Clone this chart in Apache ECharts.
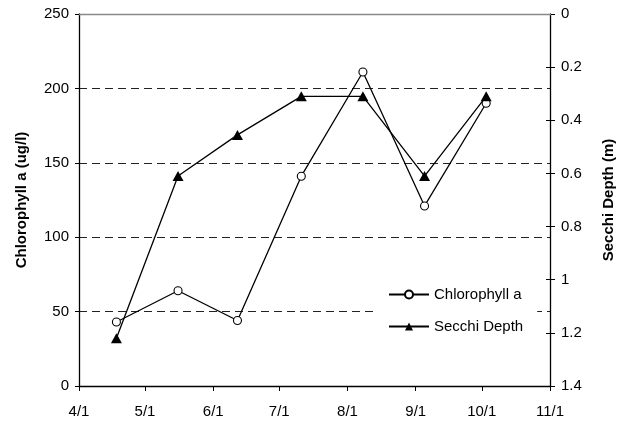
<!DOCTYPE html>
<html>
<head>
<meta charset="utf-8">
<script src="https://cdn.jsdelivr.net/npm/echarts@6/dist/echarts.min.js"></script>
<style>html,body{margin:0;padding:0;background:#fff}#c{width:624px;height:425px}</style>
</head>
<body>
<div id="c"></div>
<script>
var sampleDates = ['2005-04-18','2005-05-16','2005-06-12','2005-07-11','2005-08-08','2005-09-05','2005-10-03'];
var chlorophyll = [43, 64, 44, 141, 211, 121, 190];
var secchiDepth = [1.22, 0.61, 0.455, 0.31, 0.31, 0.61, 0.31];
var xRange = ['2005-04-01', '2005-11-01'];
var leftTicks = [0, 250, 50];
var rightTicks = [0, 1.4, 0.2];

var font = 'Liberation Sans, Arial, sans-serif';
function pairs(dates, vals){ return dates.map(function(d,i){ return [d, vals[i]]; }); }

var chart = echarts.init(document.getElementById('c'), null, {renderer:'canvas'});
chart.setOption({
  animation: false,
  backgroundColor: '#fff',
  grid: {left: 79, right: 73, top: 14, bottom: 39, containLabel: false},
  legend: {
    orient: 'vertical', left: 375, top: 283,
    backgroundColor: '#fff', padding: [4, 14, 4, 13],
    itemWidth: 40, itemHeight: 10, itemGap: 17,
    textStyle: {fontFamily: font, fontSize: 15, color: '#000'},
    data: ['Chlorophyll a', 'Secchi Depth']
  },
  xAxis: {
    type: 'time',
    min: xRange[0], max: xRange[1],
    splitNumber: 7,
    axisLine: {lineStyle: {color: '#000', width: 1.3}},
    axisTick: {show: true, length: 5, lineStyle: {color: '#000'}},
    axisLabel: {
      fontFamily: font, fontSize: 15, color: '#000', margin: 18,
      showMinLabel: true, showMaxLabel: true,
      formatter: function(v){ var d = new Date(v); return (d.getMonth()+1) + '/' + d.getDate(); }
    },
    splitLine: {show: false}
  },
  yAxis: [
    {
      type: 'value', position: 'left',
      min: leftTicks[0], max: leftTicks[1], interval: leftTicks[2],
      name: 'Chlorophyll a (ug/l)', nameLocation: 'middle', nameGap: 50, nameRotate: 90,
      nameTextStyle: {fontFamily: font, fontSize: 15, fontWeight: 'bold', color: '#000'},
      axisLine: {show: true, lineStyle: {color: '#000', width: 1.3}},
      axisTick: {show: true, length: 4, lineStyle: {color: '#000'}},
      axisLabel: {fontFamily: font, fontSize: 15, color: '#000', margin: 10},
      splitLine: {show: true, lineStyle: {color: '#222', width: 1, type: [8, 5]}}
    },
    {
      type: 'value', position: 'right', inverse: true,
      min: rightTicks[0], max: rightTicks[1], interval: rightTicks[2],
      name: 'Secchi Depth (m)', nameLocation: 'middle', nameGap: 51, nameRotate: 90,
      nameTextStyle: {fontFamily: font, fontSize: 15, fontWeight: 'bold', color: '#000'},
      axisLine: {show: true, lineStyle: {color: '#000', width: 1.3}},
      axisTick: {show: true, length: 5, lineStyle: {color: '#000'}},
      axisLabel: {fontFamily: font, fontSize: 15, color: '#000', margin: 11,
        formatter: function(v){ return String(Math.round(v*10)/10); }},
      splitLine: {show: false}
    },
    {
      type: 'value', position: 'right', inverse: true,
      min: rightTicks[0], max: rightTicks[1], interval: rightTicks[2],
      axisLine: {show: false},
      axisTick: {show: true, inside: true, length: 4, lineStyle: {color: '#000'}},
      axisLabel: {show: false},
      splitLine: {show: false}
    }
  ],
  graphic: [{
    type: 'line', shape: {x1: 79, y1: 14.5, x2: 551, y2: 14.5},
    style: {stroke: '#888', lineWidth: 1.3}, z: 10
  }],
  series: [
    {
      name: 'Chlorophyll a', type: 'line', yAxisIndex: 0,
      data: pairs(sampleDates, chlorophyll),
      symbol: 'circle', symbolSize: 8, showAllSymbol: true,
      lineStyle: {color: '#000', width: 1.3},
      itemStyle: {color: '#fff', borderColor: '#000', borderWidth: 1.1},
      z: 3
    },
    {
      name: 'Secchi Depth', type: 'line', yAxisIndex: 1,
      data: pairs(sampleDates, secchiDepth),
      symbol: 'triangle', symbolSize: [11, 10], showAllSymbol: true,
      lineStyle: {color: '#000', width: 1.3},
      itemStyle: {color: '#000', borderColor: '#000', borderWidth: 0},
      z: 4
    }
  ]
});
</script>
</body>
</html>
